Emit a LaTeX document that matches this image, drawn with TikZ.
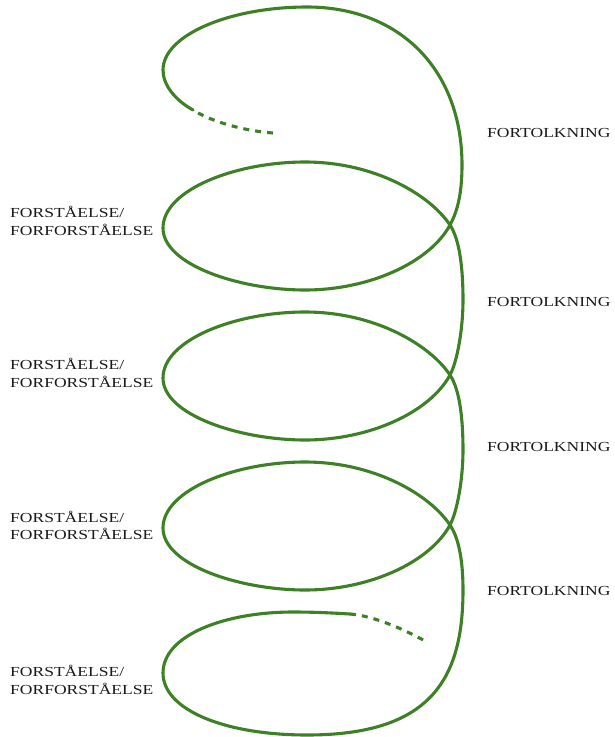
\documentclass[tikz,border=0pt]{standalone}
\usepackage{fontspec}
\newfontfamily\lblfont[FakeStretch=1.27]{Liberation Serif}
\definecolor{spiral}{RGB}{62,128,38}
\definecolor{lbl}{RGB}{25,25,25}
\tikzset{
  spiralline/.style={draw=spiral, line width=3.1pt, line cap=round, line join=round},
  spiraldash/.style={draw=spiral, line width=3.1pt, dash pattern=on 6pt off 6pt},
  lbltext/.style={anchor=base west, inner sep=0pt, text=lbl, font=\lblfont\fontsize{13.8}{16}\selectfont}
}
\begin{document}
\begin{tikzpicture}[x=1pt,y=-1pt]
\useasboundingbox (0,0) rectangle (614,737);
% top loop
\draw[spiraldash] (273,133) .. controls (245,131) and (212,122) .. (193,110);
\draw[spiralline] (193,110) .. controls (175,100) and (163,85) .. (163,70)
  .. controls (163,35) and (230,7) .. (307,7)
  .. controls (400,7) and (462,70) .. (462,165)
  .. controls (462,195) and (457,212) .. (450,225);
% middle loops
\foreach \k in {0,1,2} {
  \draw[spiralline, shift={(0,\k*150)}] (450,225) .. controls (430,262) and (370,290) .. (305,290)
    .. controls (240,290) and (163,265) .. (163,228)
    .. controls (163,190) and (235,162) .. (305,162)
    .. controls (375,162) and (430,195) .. (450,225);
}
\foreach \k in {0,1} {
  \draw[spiralline, shift={(0,\k*150)}] (450,225)
    .. controls (460,240) and (463,270) .. (463,300)
    .. controls (463,330) and (457,362) .. (450,375);
}
% bottom loop
\draw[spiralline] (450,525) .. controls (460,540) and (463,565) .. (463,590)
  .. controls (463,680) and (430,735) .. (307,735)
  .. controls (225,735) and (163,710) .. (163,673)
  .. controls (163,635) and (225,612) .. (293,612)
  .. controls (315,612) and (333,613) .. (350,614);
\draw[spiraldash] (350,614) .. controls (375,616) and (405,630) .. (425,641);
% labels left
\node[lbltext] (f1a) at (10,217) {FORSTÅELSE/};
\node[lbltext] (f1b) at (10,235) {FORFORSTÅELSE};
\node[lbltext] (f2a) at (10,369) {FORSTÅELSE/};
\node[lbltext] (f2b) at (10,387) {FORFORSTÅELSE};
\node[lbltext] (f3a) at (10,522) {FORSTÅELSE/};
\node[lbltext] (f3b) at (10,539) {FORFORSTÅELSE};
\node[lbltext] (f4a) at (10,676) {FORSTÅELSE/};
\node[lbltext] (f4b) at (10,694) {FORFORSTÅELSE};
% labels right
\node[lbltext] (t1) at (487,137) {FORTOLKNING};
\node[lbltext] (t2) at (487,306) {FORTOLKNING};
\node[lbltext] (t3) at (487,451) {FORTOLKNING};
\node[lbltext] (t4) at (487,595) {FORTOLKNING};
\end{tikzpicture}
\end{document}
